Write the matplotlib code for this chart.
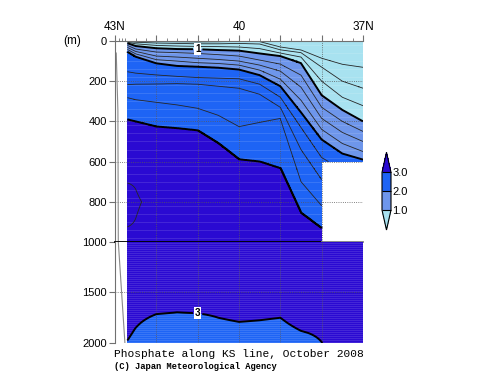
import numpy as np
import matplotlib
matplotlib.use("Agg")
import matplotlib.pyplot as plt

plt.rcParams["font.family"] = ["Liberation Sans", "DejaVu Sans"]

# latitudes (deg N) where the section was read
lat = np.array([42.7, 42.5, 42.0, 41.5, 41.0, 40.5, 40.0, 39.5, 39.0, 38.5, 38.0, 37.5, 37.0])
surface_po4 = np.array([0.2, 0.2, 0.2, 0.2, 0.2, 0.2, 0.2, 0.1, 0.05, 0.05, 0.05, 0.05, 0.05])

# depth (m) of each phosphate isoline at every latitude, surface layer down to 3.0
iso_levels = [0.25, 0.5, 0.75, 1.0, 1.25, 1.5, 1.75, 2.0, 2.25, 2.5, 2.75, 3.0]
iso_depth = np.array([
    [1, 3, 6, 11, 22, 32, 42, 53, 153, 217, 282, 390],
    [2, 6, 14, 25, 40, 52, 64, 78, 160, 215, 292, 401],
    [3, 10, 22, 36, 55, 75, 93, 111, 169, 214, 305, 426],
    [4, 12, 25, 40, 58, 80, 100, 124, 176, 212, 318, 434],
    [5, 14, 27, 41, 62, 86, 108, 128, 182, 215, 335, 445],
    [4, 14, 28, 45, 68, 92, 112, 133, 185, 225, 370, 509],
    [2, 12, 30, 48, 75, 100, 120, 142, 188, 235, 426, 589],
    [3, 15, 38, 62, 95, 120, 145, 170, 215, 265, 405, 600],
    [30, 44, 60, 75, 115, 150, 190, 225, 280, 330, 385, 633],
    [45, 58, 80, 110, 170, 230, 295, 355, 430, 540, 700, 855],
    [86, 130, 200, 270, 330, 385, 440, 490, 580, 690, 820, 932],
    [116, 200, 280, 343, 400, 455, 510, 560, 640, 750, 870, 980],
    [131, 235, 322, 400, 450, 500, 550, 590, 660, 770, 880, 990],
])

# phosphate (umol/kg) below the upper 3.0 isoline
deep_z = [400, 706, 800, 925, 1200, 1500, 1700, 1800, 1900, 2000]
deep_po4 = np.array([
    [3.02, 3.25, 3.32, 3.25, 3.15, 3.08, 3.05, 3.03, 3.015, 2.995],
    [3.02, 3.24, 3.27, 3.24, 3.14, 3.07, 3.03, 3.01, 2.99, 2.97],
    [3.02, 3.15, 3.20, 3.16, 3.12, 3.06, 3.005, 2.97, 2.94, 2.92],
    [3.01, 3.12, 3.14, 3.13, 3.10, 3.05, 2.999, 2.96, 2.93, 2.91],
    [3.01, 3.10, 3.12, 3.12, 3.10, 3.05, 3.002, 2.97, 2.94, 2.92],
    [3.01, 3.08, 3.10, 3.11, 3.10, 3.05, 3.01, 2.99, 2.96, 2.94],
    [3.01, 3.05, 3.08, 3.10, 3.09, 3.05, 3.02, 2.998, 2.97, 2.95],
    [3.01, 3.04, 3.07, 3.09, 3.09, 3.05, 3.015, 2.995, 2.97, 2.95],
    [3.01, 3.03, 3.05, 3.08, 3.08, 3.05, 3.01, 2.99, 2.97, 2.95],
    [3.01, 3.02, 3.03, 3.06, 3.08, 3.06, 3.04, 3.02, 2.995, 2.97],
    [3.01, 3.01, 3.02, 3.04, 3.08, 3.07, 3.05, 3.03, 3.01, 2.999],
    [3.01, 3.01, 3.02, 3.04, 3.08, 3.08, 3.06, 3.05, 3.04, 3.03],
    [3.01, 3.01, 3.02, 3.04, 3.08, 3.08, 3.06, 3.05, 3.04, 3.03],
])

# no observations south of 38N between 600 and 1000 m
missing_lat = 38.0
missing_top = 600
missing_bottom = 1000

# bottom line near the coast
coast_lat = [42.97, 42.93, 42.92, 42.76]
coast_depth = [60, 345, 1000, 2000]

fill_levels = [1.0, 2.0, 3.0]
fill_colors = ["#a8e2f0", "#6e96eb", "#1e64f5", "#2a0ad2"]
thin_levels = [0.25, 0.5, 0.75, 1.25, 1.5, 1.75, 2.25, 2.5, 2.75, 3.25]


def column(k, x):
    # value of column k of a (lat x n) table at latitude x, straight between readings
    return np.interp(x, lat[::-1], k[::-1])


def section(z, grid_lat):
    out = np.empty((len(z), len(grid_lat)))
    for j, x in enumerate(grid_lat):
        iso = np.array([column(iso_depth[:, k], x) for k in range(len(iso_levels))])
        deep = np.array([column(deep_po4[:, k], x) for k in range(len(deep_z))])
        surf = column(surface_po4, x)
        up = np.interp(z, np.r_[0, iso], np.r_[surf, iso_levels])
        dp = np.interp(z, deep_z, deep)
        out[:, j] = np.where(z <= iso[-1], up, dp)
    return out


grid_lat = np.linspace(lat[0], lat[-1], 286)
z_up = np.arange(0, 1001, 1.0)
z_lo = np.arange(1000, 2001, 4.0)
f_up = section(z_up, grid_lat)
f_lo = section(z_lo, grid_lat)
LAT, Z = np.meshgrid(grid_lat, z_up)
f_up = np.ma.masked_where((LAT < missing_lat - 1e-6) & (Z > missing_top) & (Z <= missing_bottom), f_up)

fig = plt.figure(figsize=(5.0, 3.87), dpi=100)
ax_up = fig.add_axes([0.23, 0.3747, 0.496, 0.5194])
ax_lo = fig.add_axes([0.23, 0.1137, 0.496, 0.261])
cax = fig.add_axes([0.764, 0.4057, 0.018, 0.2008])

for ax, z, f, step in [(ax_up, z_up, f_up, 40), (ax_lo, z_lo, f_lo, 20)]:
    cs = ax.contourf(grid_lat, z, f, levels=fill_levels, colors=fill_colors, extend="both")
    for yy in np.arange(z[0] + step / 2, z[-1], step):
        ax.axhline(yy, xmin=0.05, color="white", lw=0.6, alpha=0.14, zorder=1.2)
    ax.contour(grid_lat, z, f, levels=thin_levels, colors="#262626", linewidths=0.6)
    ax.plot(coast_lat, coast_depth, color="#8a8a8a", lw=0.8)
    ax.set_xlim(43, 37)
    ax.set_xticks([43, 42, 41, 40, 39, 38, 37])
    ax.grid(True, ls=":", color="#5a5a5a", lw=0.6)
    for s in ["right", "bottom", "top"]:
        ax.spines[s].set_visible(False)
    ax.spines["left"].set_color("#707070")
    ax.tick_params(axis="y", direction="out", length=4, color="#707070",
                   labelsize=8, pad=2)

ax_up.contour(grid_lat, z_up, f_up, levels=[2.0, 3.0], colors="k", linewidths=1.4)
one_up = ax_up.contour(grid_lat, z_up, f_up, levels=[1.0], colors="k", linewidths=1.4)
three_lo = ax_lo.contour(grid_lat, z_lo, f_lo, levels=[3.0], colors="k", linewidths=1.4)
labels = ax_up.clabel(one_up, manual=[(41.0, 41)], fmt="%d",
                      fontsize=7, inline=True, inline_spacing=2)
labels += ax_lo.clabel(three_lo, manual=[(41.0, 1706)], fmt="%d",
                       fontsize=7, inline=True, inline_spacing=2)
for t in labels:
    t.set_rotation(0)
    t.set_fontweight("bold")
    t.set_bbox(dict(facecolor="white", edgecolor="none", pad=0.6))

ax_up.set_ylim(1000, 0)
ax_up.set_yticks([0, 200, 400, 600, 800, 1000])
ax_lo.set_ylim(2000, 1000)
ax_lo.set_yticks([1500, 2000])

# 1000 m divide: black where there is data, grey under the empty box
split = (43 - missing_lat) / 6.0
ax_up.axhline(missing_bottom, xmax=split, color="k", lw=1.3, clip_on=False, zorder=3)
ax_up.axhline(missing_bottom, xmin=split, color="#808080", lw=1.3, clip_on=False, zorder=3)

ax_up.spines["top"].set_visible(True)
ax_up.spines["top"].set_color("#707070")
ax_up.xaxis.set_ticks_position("top")
ax_up.set_xticklabels(["43N", "", "", "40", "", "", "37N"])
ax_up.set_xticks(np.r_[np.arange(37, 43, 0.25), [42.9, 42.83]], minor=True)
ax_up.tick_params(axis="x", which="major", direction="out", length=4.5,
                  color="#707070", labelsize=8.5, pad=1)
ax_up.tick_params(axis="x", which="minor", direction="out", length=2.5, color="#707070")
ax_lo.tick_params(axis="x", bottom=False, labelbottom=False)

ax_up.text(-0.21, 1.0, "(m)", transform=ax_up.transAxes, ha="left", va="center", fontsize=8.5)

cb = fig.colorbar(cs, cax=cax, extendfrac=0.53, drawedges=True, ticks=fill_levels, format="%.1f")
cb.outline.set_linewidth(0.8)
cb.dividers.set_linewidth(0.8)
cb.ax.tick_params(length=0, labelsize=8, pad=1)

fig.text(0.228, 0.0767, "Phosphate along KS line, October 2008",
         family="Liberation Mono", fontsize=8.1, va="baseline")
fig.text(0.228, 0.0457, "(C) Japan Meteorological Agency",
         family="Liberation Mono", fontsize=6.3, weight="bold", va="baseline")

fig.savefig("out.png", dpi=100)
